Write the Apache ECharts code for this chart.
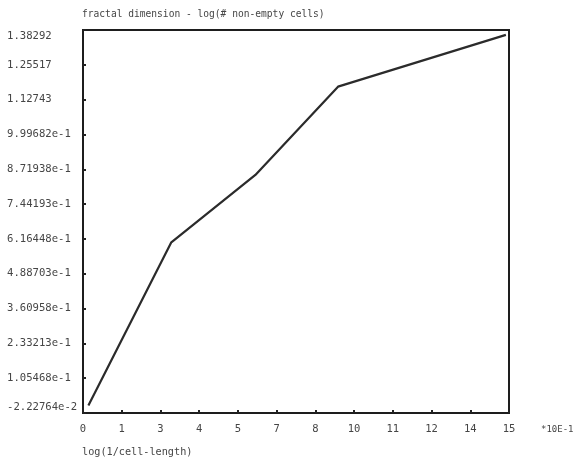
<!DOCTYPE html>
<html>
<head>
<meta charset="utf-8">
<title>fractal dimension</title>
<script src="https://cdn.jsdelivr.net/npm/echarts@6/dist/echarts.min.js"></script>
<style>
  html, body { margin: 0; padding: 0; background: #fff; }
  #chart { width: 581px; height: 470px; }
</style>
</head>
<body>
<div id="chart"></div>
<script>
// log(1/cell-length), in units of 10E-1
const xValues = [0.19, 3.11, 6.07, 8.98, 14.89];
// log(# non-empty cells)
const yValues = [0.005, 0.604, 0.851, 1.175, 1.365];

const xTickLabels = ['0', '1', '3', '4', '5', '7', '8', '10', '11', '12', '14', '15'];
const yTickLabels = [
  '-2.22764e-2', '1.05468e-1', '2.33213e-1', '3.60958e-1', '4.88703e-1', '6.16448e-1',
  '7.44193e-1', '8.71938e-1', '9.99682e-1', '1.12743', '1.25517', '1.38292'
];

const yMin = -0.0222764;
const yMax = 1.38292;
const xMin = 0;
const xMax = 15;

const mono = 'DejaVu Sans Mono';
const textColor = '#454545';
const labelSize = 10.6;

const chart = echarts.init(document.getElementById('chart'), null, { renderer: 'canvas' });

// the end labels of the value axis sit a little inside the frame
function yLabel(value, index) {
  const text = yTickLabels[index];
  if (text === undefined) return '';
  if (index === 0) return '{lo|' + text + '}';
  if (index === yTickLabels.length - 1) return '{hi|' + text + '}';
  return text;
}

chart.setOption({
  backgroundColor: '#ffffff',
  animation: false,
  title: [
    {
      text: 'fractal dimension - log(# non-empty cells)',
      left: 82, top: 9, padding: 0,
      textStyle: { fontFamily: mono, fontSize: 9.6, fontWeight: 'normal', color: textColor }
    },
    {
      text: 'log(1/cell-length)',
      left: 82, top: 447, padding: 0,
      textStyle: { fontFamily: mono, fontSize: 10.2, fontWeight: 'normal', color: textColor }
    },
    {
      text: '*10E-1',
      left: 541, top: 425, padding: 0,
      textStyle: { fontFamily: mono, fontSize: 9, fontWeight: 'normal', color: textColor }
    }
  ],
  grid: {
    left: 83, right: 72, top: 30, bottom: 57,
    show: true,
    borderColor: '#1e1e1e',
    borderWidth: 2,
    backgroundColor: 'transparent'
  },
  xAxis: {
    type: 'value',
    min: xMin,
    max: xMax,
    interval: (xMax - xMin) / 11,
    splitLine: { show: false },
    axisLine: { show: true, onZero: false, lineStyle: { color: '#1e1e1e', width: 1.6 } },
    axisTick: { show: true, inside: true, length: 3, lineStyle: { color: '#222', width: 2 } },
    axisLabel: {
      margin: 11,
      fontFamily: mono,
      fontSize: 10.5,
      color: textColor,
      formatter: function (value, index) { return xTickLabels[index] !== undefined ? xTickLabels[index] : ''; }
    }
  },
  yAxis: {
    type: 'value',
    min: yMin,
    max: yMax,
    interval: (yMax - yMin) / 11,
    splitLine: { show: false },
    axisLine: { show: true, onZero: false, lineStyle: { color: '#1e1e1e', width: 1.6 } },
    axisTick: { show: true, inside: true, length: 3, lineStyle: { color: '#222', width: 2 } },
    axisLabel: {
      align: 'left',
      margin: 76,
      fontFamily: mono,
      fontSize: labelSize,
      color: textColor,
      formatter: yLabel,
      rich: {
        lo: { fontFamily: mono, fontSize: labelSize, color: textColor, padding: [0, 0, 12, 0] },
        hi: { fontFamily: mono, fontSize: labelSize, color: textColor, padding: [12, 0, 0, 0] }
      }
    }
  },
  series: [
    {
      type: 'line',
      data: xValues.map((x, i) => [x, yValues[i]]),
      showSymbol: false,
      symbol: 'none',
      lineStyle: { color: '#2b2b2b', width: 2.2 },
      clip: false
    }
  ]
});
</script>
</body>
</html>
